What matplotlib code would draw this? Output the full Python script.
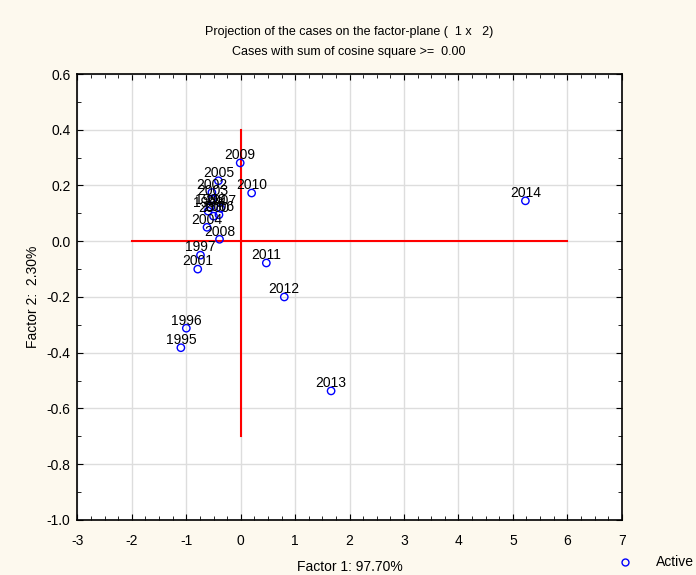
import matplotlib
matplotlib.use("Agg")
import matplotlib.pyplot as plt
from matplotlib.ticker import MultipleLocator, FormatStrFormatter
from matplotlib.lines import Line2D

plt.rcParams['font.family'] = ['Liberation Sans', 'DejaVu Sans']
plt.rcParams['axes.unicode_minus'] = False

# case coordinates on factor 1 / factor 2
years = ['1995', '1996', '1997', '1998', '1999', '2000', '2001', '2002', '2003', '2004',
         '2005', '2006', '2007', '2008', '2009', '2010', '2011', '2012', '2013', '2014']
factor1 = [-1.10, -1.00, -0.74, -0.60, -0.56, -0.50, -0.79, -0.53, -0.52, -0.62,
           -0.41, -0.40, -0.37, -0.39, -0.01, 0.20, 0.47, 0.80, 1.66, 5.23]
factor2 = [-0.382, -0.312, -0.050, 0.108, 0.122, 0.090, -0.100, 0.175, 0.152, 0.050,
           0.217, 0.095, 0.118, 0.007, 0.281, 0.173, -0.078, -0.200, -0.537, 0.145]

bg = '#FDF9EE'
fig = plt.figure(figsize=(6.96, 5.75), dpi=100, facecolor=bg)
ax = fig.add_axes([0.1113, 0.0957, 0.7820, 0.7756])
ax.set_facecolor('white')

ax.set_xlim(-3, 7)
ax.set_ylim(-1.0, 0.6)
ax.xaxis.set_major_locator(MultipleLocator(1))
ax.xaxis.set_minor_locator(MultipleLocator(0.25))
ax.yaxis.set_major_locator(MultipleLocator(0.2))
ax.yaxis.set_minor_locator(MultipleLocator(0.1))
ax.yaxis.set_major_formatter(FormatStrFormatter('%.1f'))
ax.tick_params(which='both', direction='in', top=True, right=True, labelsize=10,
               color='black')
ax.tick_params(which='major', length=4)
ax.tick_params(which='minor', length=3)
ax.tick_params(axis='x', which='major', pad=10)
ax.tick_params(axis='y', which='major', pad=5)
ax.grid(True, which='major', color='#dddddd', linewidth=1)
ax.set_axisbelow(True)
for s in ax.spines.values():
    s.set_linewidth(1.2)

# reference axes through origin
ax.plot([-2, 6], [0, 0], color='red', linewidth=1.5, zorder=2)
ax.plot([0, 0], [-0.7, 0.4], color='red', linewidth=1.5, zorder=2)

ax.scatter(factor1, factor2, s=28, facecolors='none', edgecolors='blue',
           linewidths=1, zorder=3)
for yr, x, y in zip(years, factor1, factor2):
    ax.annotate(yr, (x, y), xytext=(0, 0.5), textcoords='offset points',
                ha='center', va='bottom', fontsize=10, zorder=4)

ax.set_xlabel('Factor 1: 97.70%', fontsize=10, labelpad=9)
ax.set_ylabel('Factor 2:  2.30%', fontsize=10, labelpad=5)

fig.text(0.5015, 0.945, 'Projection of the cases on the factor-plane (  1 x   2)',
         ha='center', va='center', fontsize=9)
fig.text(0.5015, 0.910, 'Cases with sum of cosine square >=  0.00',
         ha='center', va='center', fontsize=9)

handle = Line2D([], [], linestyle='none', marker='o', markerfacecolor='none',
                markeredgecolor='blue', markersize=5)
fig.legend([handle], ['Active'], loc='lower right', bbox_to_anchor=(1.015, -0.012),
           frameon=False, fontsize=10, handletextpad=1.2)

fig.savefig('out.png', dpi=100, facecolor=bg)
